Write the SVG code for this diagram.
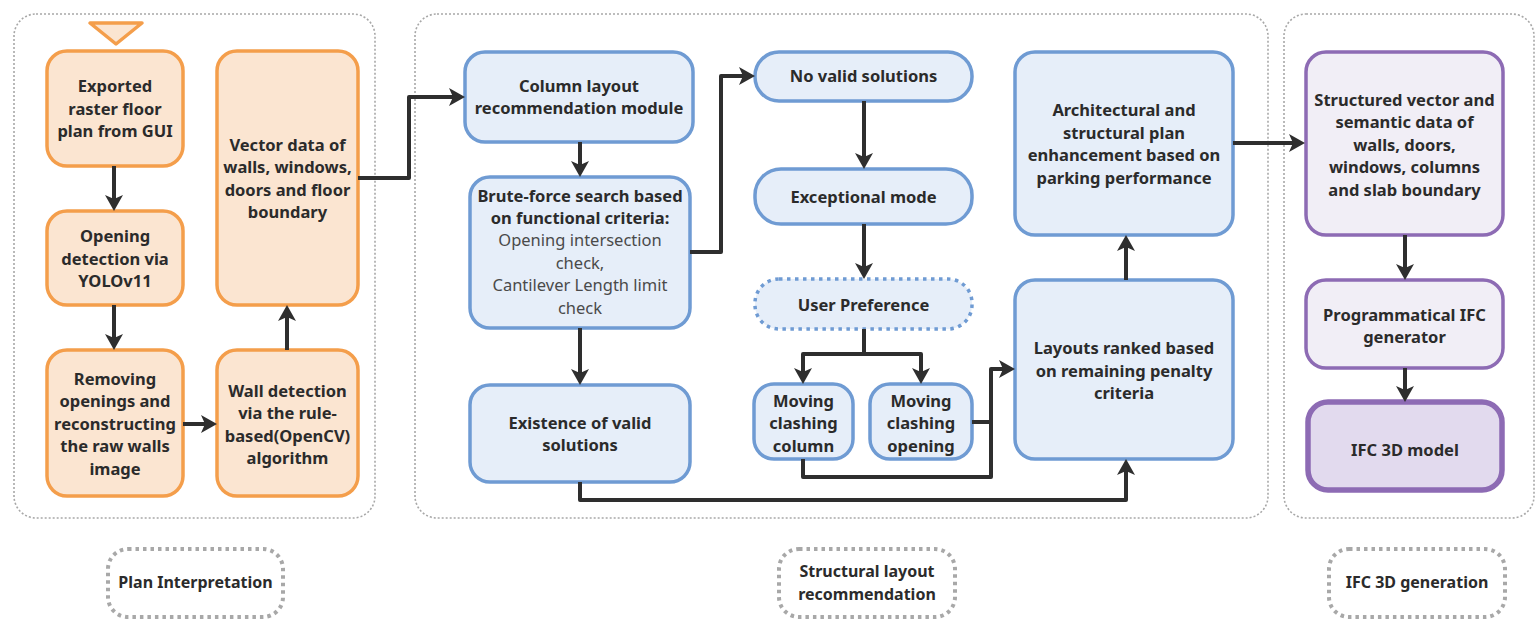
<svg xmlns="http://www.w3.org/2000/svg" width="1537" height="627" viewBox="0 0 1537 627">
<style>
text{font-family:"Noto Sans","Open Sans","DejaVu Sans",sans-serif;font-size:16.5px;font-weight:700;fill:#2b2b2b;text-anchor:middle}
.reg{font-weight:400;fill:#4a4a4a}
.grp{fill:none;stroke:#a8a8a8;stroke-width:1.6;stroke-dasharray:2 2}
.lab{fill:none;stroke:#a8a8a8;stroke-width:4;stroke-dasharray:3.5 4}
.lt{font-size:16px}
.o{fill:#fbe5d1;stroke:#f49e4b;stroke-width:3.5}
.b{fill:#e6eef9;stroke:#6f9bd3;stroke-width:3.5}
.bd{fill:#e6eef9;stroke:#6f9bd3;stroke-width:3.5;stroke-dasharray:3.5 4.5}
.p{fill:#f1eef6;stroke:#8d6bb4;stroke-width:3.5}
.p2{fill:#e2daee;stroke:#8d6bb4;stroke-width:5.5}
.c{fill:none;stroke:#2e2e2e;stroke-width:4;stroke-linejoin:round}
</style>
<defs>
<marker id="ah" viewBox="0 0 16 18" markerUnits="userSpaceOnUse" markerWidth="16" markerHeight="18" refX="8" refY="9" orient="auto">
<path d="M0,0 L16,9 L0,18 L4,9 z" fill="#2e2e2e"/>
</marker>
</defs>
<rect width="1537" height="627" fill="#ffffff"/>
<g id="groups">
<rect class="grp" x="14" y="14" width="361" height="504" rx="22"/>
<rect class="grp" x="415" y="14" width="853" height="504" rx="22"/>
<rect class="grp" x="1284" y="14" width="250" height="504" rx="22"/>
</g>
<g id="start">
<polygon points="90,23 142,23 116,44" fill="#fbe5d1" stroke="#f49e4b" stroke-width="3.5" stroke-linejoin="round"/>
</g>
<g id="n1"><rect class="o" x="47" y="51" width="136" height="115" rx="20"/>
<text x="115" y="92">Exported</text><text x="115" y="114.5">raster floor</text><text x="115" y="137">plan from GUI</text></g>
<g id="n2"><rect class="o" x="47" y="211" width="136" height="94" rx="20"/>
<text x="115" y="242">Opening</text><text x="115" y="264.5">detection via</text><text x="115" y="287">YOLOv11</text></g>
<g id="n3"><rect class="o" x="47" y="350" width="136" height="146" rx="20"/>
<text x="115" y="384.5">Removing</text><text x="115" y="407">openings and</text><text x="115" y="429.5">reconstructing</text><text x="115" y="452">the raw walls</text><text x="115" y="474.5">image</text></g>
<g id="n4"><rect class="o" x="217" y="51" width="141" height="254" rx="20"/>
<text x="287.5" y="151">Vector data of</text><text x="287.5" y="173">walls, windows,</text><text x="287.5" y="195.5">doors and floor</text><text x="287.5" y="218">boundary</text></g>
<g id="n5"><rect class="o" x="217" y="350" width="141" height="146" rx="20"/>
<text x="287.5" y="397">Wall detection</text><text x="287.5" y="419">via the rule-</text><text x="287.5" y="441.5">based(OpenCV)</text><text x="287.5" y="464">algorithm</text></g>
<g id="n6"><rect class="b" x="465" y="52" width="228" height="90" rx="20"/>
<text x="579" y="92">Column layout</text><text x="579" y="114">recommendation module</text></g>
<g id="n7"><rect class="b" x="470" y="177" width="220" height="151" rx="20"/>
<text x="580" y="202">Brute-force search based</text><text x="580" y="224">on functional criteria:</text>
<text class="reg" x="580" y="246">Opening intersection</text><text class="reg" x="580" y="268.5">check,</text><text class="reg" x="580" y="291">Cantilever Length limit</text><text class="reg" x="580" y="313.5">check</text></g>
<g id="n8"><rect class="b" x="470" y="385" width="220" height="97" rx="20"/>
<text x="580" y="428.5">Existence of valid</text><text x="580" y="451">solutions</text></g>
<g id="n9"><rect class="b" x="755" y="52" width="217" height="49" rx="24"/>
<text x="863.5" y="82">No valid solutions</text></g>
<g id="n10"><rect class="b" x="755" y="169" width="217" height="55" rx="26"/>
<text x="863.5" y="202.5">Exceptional mode</text></g>
<g id="n11"><rect class="bd" x="755" y="279" width="217" height="50" rx="24"/>
<text x="863.5" y="311">User Preference</text></g>
<g id="n12"><rect class="b" x="754" y="384" width="99" height="75" rx="20"/>
<text x="803.5" y="406.5">Moving</text><text x="803.5" y="429">clashing</text><text x="803.5" y="451.5">column</text></g>
<g id="n13"><rect class="b" x="870" y="384" width="102" height="75" rx="20"/>
<text x="921" y="406.5">Moving</text><text x="921" y="429">clashing</text><text x="921" y="451.5">opening</text></g>
<g id="n14"><rect class="b" x="1015" y="52" width="218" height="183" rx="20"/>
<text x="1124" y="116">Architectural and</text><text x="1124" y="138.5">structural plan</text><text x="1124" y="161">enhancement based on</text><text x="1124" y="183.5">parking performance</text></g>
<g id="n15"><rect class="b" x="1015" y="280" width="218" height="179" rx="20"/>
<text x="1124" y="354">Layouts ranked based</text><text x="1124" y="376.5">on remaining penalty</text><text x="1124" y="399">criteria</text></g>
<g id="n16"><rect class="p" x="1306" y="52" width="197" height="183" rx="20"/>
<text x="1404.5" y="105.5">Structured vector and</text><text x="1404.5" y="128">semantic data of</text><text x="1404.5" y="150.5">walls, doors,</text><text x="1404.5" y="173">windows, columns</text><text x="1404.5" y="195.5">and slab boundary</text></g>
<g id="n17"><rect class="p" x="1306" y="280" width="197" height="88" rx="20"/>
<text x="1404.5" y="320.5">Programmatical IFC</text><text x="1404.5" y="343">generator</text></g>
<g id="n18"><rect class="p2" x="1308" y="402" width="194" height="88" rx="20"/>
<text x="1405" y="456">IFC 3D model</text></g>
<g id="connectors">
<path class="c" d="M114,166 L114,203" marker-end="url(#ah)"/>
<path class="c" d="M114,305 L114,342" marker-end="url(#ah)"/>
<path class="c" d="M183,424 L209,424" marker-end="url(#ah)"/>
<path class="c" d="M287,350 L287,313" marker-end="url(#ah)"/>
<path class="c" d="M358,178 L409,178 L409,97 L457,97" marker-end="url(#ah)"/>
<path class="c" d="M580,142 L580,169" marker-end="url(#ah)"/>
<path class="c" d="M580,328 L580,377" marker-end="url(#ah)"/>
<path class="c" d="M690,252 L721,252 L721,76 L747,76" marker-end="url(#ah)"/>
<path class="c" d="M864,101 L864,161" marker-end="url(#ah)"/>
<path class="c" d="M864,224 L864,271" marker-end="url(#ah)"/>
<path class="c" d="M864,329 L864,354 L803,354 L803,376" marker-end="url(#ah)"/>
<path class="c" d="M864,354 L921,354 L921,376" marker-end="url(#ah)"/>
<path class="c" d="M803,459 L803,477 L991,477 L991,369 L1007,369" marker-end="url(#ah)"/>
<path class="c" d="M972,422 L991,422"/>
<path class="c" d="M580,482 L580,500 L1126,500 L1126,467" marker-end="url(#ah)"/>
<path class="c" d="M1126,280 L1126,243" marker-end="url(#ah)"/>
<path class="c" d="M1233,143 L1297,143" marker-end="url(#ah)"/>
<path class="c" d="M1405,235 L1405,272" marker-end="url(#ah)"/>
<path class="c" d="M1405,368 L1405,394" marker-end="url(#ah)"/>
</g>
<g id="labels">
<g id="lab1"><rect class="lab" x="108" y="549" width="175" height="68" rx="20"/>
<text class="lt" x="195.5" y="588">Plan Interpretation</text></g>
<g id="lab2"><rect class="lab" x="779" y="549" width="176" height="68" rx="20"/>
<text class="lt" x="867" y="577">Structural layout</text><text class="lt" x="867" y="600">recommendation</text></g>
<g id="lab3"><rect class="lab" x="1329" y="549" width="176" height="68" rx="20"/>
<text class="lt" x="1417" y="588">IFC 3D generation</text></g>
</g>
</svg>
